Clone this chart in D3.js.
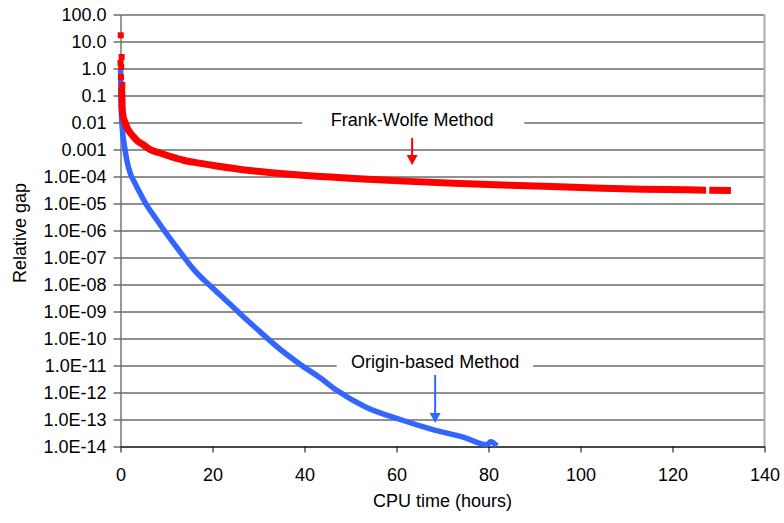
<!DOCTYPE html>
<html>
<head>
<meta charset="utf-8">
<script src="https://cdn.jsdelivr.net/npm/d3@7"></script>
<style>
  body { margin: 0; background: #fff; }
  text { font-family: "Liberation Sans", Arial, Helvetica, sans-serif; fill: #000; }
</style>
</head>
<body>
<div id="chart"></div>
<script>
// y axis decades and their labels
var yTicks = [1e2, 1e1, 1e0, 1e-1, 1e-2, 1e-3, 1e-4, 1e-5, 1e-6, 1e-7, 1e-8, 1e-9, 1e-10, 1e-11, 1e-12, 1e-13, 1e-14];
var yLabels = ["100.0", "10.0", "1.0", "0.1", "0.01", "0.001", "1.0E-04", "1.0E-05", "1.0E-06", "1.0E-07",
               "1.0E-08", "1.0E-09", "1.0E-10", "1.0E-11", "1.0E-12", "1.0E-13", "1.0E-14"];
var xTicks = [0, 20, 40, 60, 80, 100, 120, 140];

// Frank-Wolfe: first scattered iterations (squares)
var fwEarlyTime = [0.05, 0.25, 0.0, 0.15, 0.1, 0.4];
var fwEarlyGap  = [17, 2.67, 1.6, 1.14, 0.48, 0.245];

// Frank-Wolfe: continuous part (null = small gap in the data)
var fwTime = [0.2, 0.26, 0.39, 0.6, 0.98, 1.35, 2.0, 2.8, 3.8, 4.95, 6.4, 8.6, 12.2, 13.7, 15.8, 20.9, 28.1,
              35.4, 42.6, 49.9, 57.1, 62.9, 73.7, 84.6, 95.4, 104.8, 113.5, 123, 127.3, 127.7, 128, 132.7];
var fwGap  = [0.2, 0.16, 0.029, 0.016, 0.01, 6.9e-3, 4.4e-3, 3e-3, 2e-3, 1.5e-3, 1e-3, 7.4e-4, 4.7e-4, 4e-4, 3.4e-4, 2.45e-4, 1.66e-4,
              1.26e-4, 1.02e-4, 8.7e-5, 7.4e-5, 6.6e-5, 5.5e-5, 4.7e-5, 4.2e-5, 3.7e-5, 3.4e-5, 3.2e-5, 3.1e-5, null, 3.1e-5, 3.0e-5];

// Origin-based method
var obTime = [0.02, 0.1, 0.26, 0.98, 1.5, 2.07, 3.0, 3.87, 5.33, 7.87, 10.0, 12.9, 15.8, 19.5, 21.6, 26.0, 30.3, 34.7,
              39.0, 43.4, 47.0, 53.5, 60.8, 67.9, 75.3, 78.5, 79.6, 80.5, 81.8];
var obGap  = [1.0, 0.09, 0.0123, 1e-3, 3.2e-4, 1.4e-4, 6.3e-5, 3.2e-5, 1.1e-5, 2.5e-6, 7.6e-7, 1.66e-7, 3.8e-8, 8.9e-9, 4.2e-9, 8.3e-10, 1.8e-10, 4e-11,
              1.12e-11, 3.5e-12, 1.2e-12, 2.8e-13, 1e-13, 4.2e-14, 2.0e-14, 1.25e-14, 1.15e-14, 1.5e-14, 1.05e-14];

var fwData = fwTime.map(function(t, i) { return {t: t, v: fwGap[i]}; });
var fwEarly = fwEarlyTime.map(function(t, i) { return {t: t, v: fwEarlyGap[i]}; });
var obData = obTime.map(function(t, i) { return {t: t, v: obGap[i]}; });

var W = 784, H = 523;
var svg = d3.select("#chart").append("svg")
    .attr("width", W)
    .attr("height", H);

var x = d3.scaleLinear().domain([0, 140]).range([120.5, 764.5]);
var y = d3.scaleLog().domain([1e-14, 1e2]).range([446.5, 14.5]);

var red = "#ff0000", blue = "#3366ff";

// gridlines
svg.append("g")
    .attr("transform", "translate(120.5,0)")
    .call(d3.axisLeft(y).tickValues(yTicks).tickSize(-644).tickFormat(""))
    .call(function(g) {
        g.select(".domain").remove();
        g.selectAll("line").attr("stroke", "#222").attr("stroke-width", 1);
    });

// right border
svg.append("line")
    .attr("x1", x(140)).attr("x2", x(140))
    .attr("y1", y(1e2)).attr("y2", y(1e-14))
    .attr("stroke", "#aaa").attr("stroke-width", 2);

// y axis
svg.append("g")
    .attr("transform", "translate(120.5,0)")
    .call(d3.axisLeft(y).tickValues(yTicks).tickSize(7).tickPadding(7)
        .tickSizeOuter(0)
        .tickFormat(function(d, i) { return yLabels[i]; }))
    .call(function(g) {
        g.select(".domain").attr("stroke", "#777").attr("stroke-width", 1.5);
        g.selectAll("line").attr("stroke", "#222");
        g.selectAll("text").style("font-size", "18px")
            .style("font-family", "'Liberation Sans', Arial, sans-serif");
    });

// x axis
svg.append("g")
    .attr("transform", "translate(0,446.5)")
    .call(d3.axisBottom(x).tickValues(xTicks).tickSize(6).tickPadding(16).tickSizeOuter(0))
    .call(function(g) {
        g.select(".domain").attr("stroke", "#000");
        g.selectAll("line").attr("stroke", "#000");
        g.selectAll("text").style("font-size", "18px")
            .style("font-family", "'Liberation Sans', Arial, sans-serif");
    });

// axis titles
svg.append("text")
    .attr("x", 442.5).attr("y", 507)
    .attr("text-anchor", "middle")
    .style("font-size", "18px")
    .text("CPU time (hours)");

svg.append("text")
    .attr("transform", "translate(26,233) rotate(-90)")
    .attr("text-anchor", "middle")
    .style("font-size", "18px")
    .text("Relative gap");

// series
var line = d3.line()
    .defined(function(d) { return d.v != null; })
    .curve(d3.curveMonotoneX)
    .x(function(d) { return x(d.t); })
    .y(function(d) { return y(d.v); });

svg.append("path")
    .datum(obData)
    .attr("d", line)
    .attr("fill", "none")
    .attr("stroke", blue)
    .attr("stroke-width", 5.5)
    .attr("stroke-linejoin", "round");

svg.append("path")
    .datum(fwData)
    .attr("d", line)
    .attr("fill", "none")
    .attr("stroke", red)
    .attr("stroke-width", 7)
    .attr("stroke-linejoin", "miter");

svg.selectAll("rect.fw")
    .data(fwEarly)
    .enter().append("rect")
    .attr("class", "fw")
    .attr("x", function(d) { return x(d.t) - 3; })
    .attr("y", function(d) { return y(d.v) - 3; })
    .attr("width", 6).attr("height", 6)
    .attr("fill", red);

// annotations
function annotate(label, tx, vText, vFrom, vTo, boxL, boxR, color) {
    svg.append("rect")
        .attr("x", x(boxL)).attr("y", y(vText) - 17)
        .attr("width", x(boxR) - x(boxL)).attr("height", 22)
        .attr("fill", "#fff");
    svg.append("text")
        .attr("x", x(tx)).attr("y", y(vText))
        .attr("text-anchor", "middle")
        .style("font-size", "18px")
        .text(label);
    var x0 = x(tx), y0 = y(vFrom), y1 = y(vTo);
    svg.append("line")
        .attr("x1", x0).attr("x2", x0)
        .attr("y1", y0).attr("y2", y1 - 9)
        .attr("stroke", color).attr("stroke-width", 2);
    svg.append("path")
        .attr("d", "M" + (x0 - 5.5) + "," + (y1 - 10) + "L" + (x0 + 5.5) + "," + (y1 - 10) + "L" + x0 + "," + y1 + "Z")
        .attr("fill", color);
}

annotate("Frank-Wolfe Method", 63.4, Math.pow(10, -2.14), Math.pow(10, -2.57), Math.pow(10, -3.57), 39.5, 87.8, red);
annotate("Origin-based Method", 68.4, Math.pow(10, -11.09), Math.pow(10, -11.35), Math.pow(10, -13.13), 47.0, 89.7, blue);
</script>
</body>
</html>
